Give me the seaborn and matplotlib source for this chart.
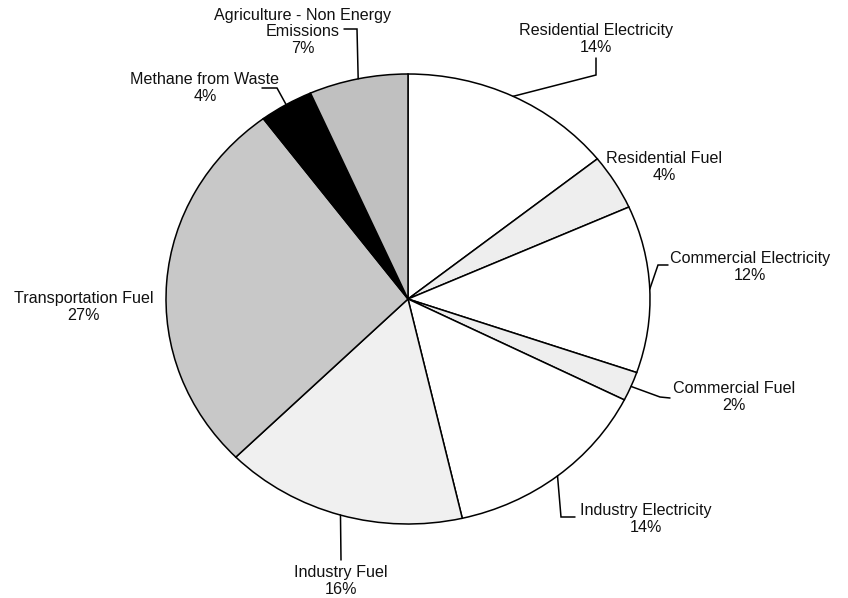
"""Emissions by sector pie chart."""

import matplotlib

matplotlib.use("Agg")

import matplotlib.pyplot as plt
import numpy as np
import seaborn as sns

# data
sectors = [
    "Residential Electricity",
    "Residential Fuel",
    "Commercial Electricity",
    "Commercial Fuel",
    "Industry Electricity",
    "Industry Fuel",
    "Transportation Fuel",
    "Methane from Waste",
    "Agriculture - Non Energy\nEmissions",
]
shares = [14.3, 4.0, 12.0, 2.1, 14.0, 16.2, 27.2, 3.6, 6.6]
pct_labels = ["14%", "4%", "12%", "2%", "14%", "16%", "27%", "4%", "7%"]
slice_colors = ["#ffffff", "#eeeeee", "#ffffff", "#eeeeee", "#ffffff",
                "#f0f0f0", "#c8c8c8", "#000000", "#c0c0c0"]

# layout (pixel positions in the 848x598 canvas)
W, H = 848, 598
CX, CY, RX, RY = 408, 299, 242, 225
label_pos = [(596, 39), (664, 167), (750, 267), (734, 397), (646, 519),
             (341, 581), (84, 307), (205, 88), (303, 32)]
# leader elbows: list of (x, y) after the wedge edge point, None = no leader
leaders = [
    [(596, 75), (596, 58)],
    None,
    [(658, 265), (668, 265)],
    [(660, 397), (670, 398)],
    [(561, 517), (575, 517)],
    [(341, 560)],
    None,
    [(277, 88), (262, 88)],
    [(357, 29), (344, 29)],
]


def to_data(px, py):
    return (px - CX) / RX, (CY - py) / RY


sns.set_theme(style="white")
plt.rcParams["font.family"] = ["Liberation Sans", "DejaVu Sans"]

fig = plt.figure(figsize=(W / 100, H / 100), dpi=100)
ax = fig.add_axes([0, 0, 1, 1])

wedges, _ = ax.pie(
    shares,
    colors=slice_colors,
    startangle=90,
    counterclock=False,
    wedgeprops={"edgecolor": "black", "linewidth": 1.1},
)
ax.set_aspect("auto")
ax.set_xlim(-CX / RX, (W - CX) / RX)
ax.set_ylim(-(H - CY) / RY, CY / RY)
ax.axis("off")

for wedge, name, pct, pos, leader in zip(wedges, sectors, pct_labels, label_pos, leaders):
    tx, ty = to_data(*pos)
    ax.text(tx, ty, f"{name}\n{pct}", ha="center", va="center",
            fontsize=11.6, color="#111111", linespacing=1.15)
    if leader is None:
        continue
    mid = np.deg2rad((wedge.theta1 + wedge.theta2) / 2)
    xs = [np.cos(mid)]
    ys = [np.sin(mid)]
    for px, py in leader:
        dx, dy = to_data(px, py)
        xs.append(dx)
        ys.append(dy)
    ax.plot(xs, ys, color="black", linewidth=1.1, solid_joinstyle="miter")

fig.savefig("out.png", dpi=100, facecolor="white")
